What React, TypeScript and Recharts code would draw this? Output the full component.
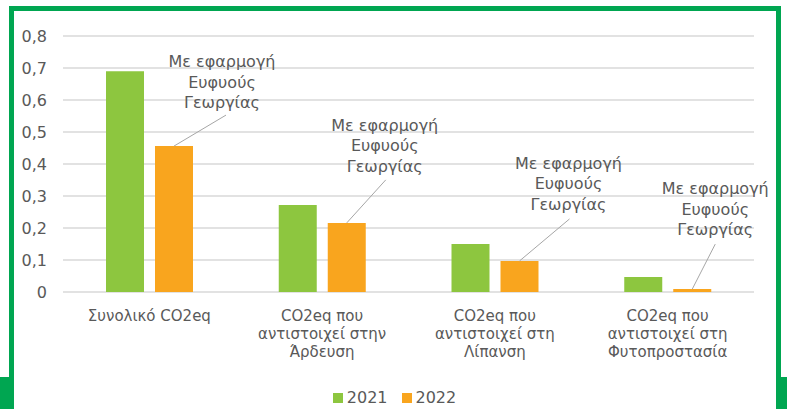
import React from "react";
import {
  BarChart,
  Bar,
  XAxis,
  YAxis,
  CartesianGrid,
  Legend,
  LabelList,
} from "recharts";

const categories = [
  "Συνολικό CO2eq",
  "CO2eq που\nαντιστοιχεί στην\nΆρδευση",
  "CO2eq που\nαντιστοιχεί στη\nΛίπανση",
  "CO2eq που\nαντιστοιχεί στη\nΦυτοπροστασία",
];
const values2021 = [0.69, 0.272, 0.15, 0.047];
const values2022 = [0.456, 0.216, 0.097, 0.009];
const yTicks = [0, 0.1, 0.2, 0.3, 0.4, 0.5, 0.6, 0.7, 0.8];
const calloutText = ["Με εφαρμογή", "Ευφυούς", "Γεωργίας"];

// where each hand-placed callout sits, relative to the top of its orange bar
const calloutShift = [
  { tx: 48, ty: -79, lx: 52, ly: -31 },
  { tx: 38, ty: -92, lx: 39, ly: -43 },
  { tx: 49, ty: -92, lx: 50, ly: -42 },
  { tx: 23, ty: -95, lx: 23, ly: -45 },
];

const data = categories.map((name, i) => ({
  name,
  y2021: values2021[i],
  y2022: values2022[i],
}));

const GREEN = "#8DC63F";
const ORANGE = "#F9A51E";
const FRAME = "#00A651";
const TEXT = "#595959";
const FS = 15;

const fmt = (v: number) => (v === 0 ? "0" : v.toFixed(1).replace(".", ","));

function CategoryTick(props: any) {
  const { x, y, payload } = props;
  const lines = String(payload.value).split("\n");
  return (
    <text x={x} y={y + 21} textAnchor="middle" fill={TEXT} fontSize={FS}>
      {lines.map((l, i) => (
        <tspan key={i} x={x} dy={i === 0 ? 0 : 18}>
          {l}
        </tspan>
      ))}
    </text>
  );
}

function Callout(props: any) {
  const { x, y, width, index } = props;
  const s = calloutShift[index];
  if (!s) return null;
  const cx = Number(x) + Number(width) / 2;
  const top = Number(y);
  return (
    <g>
      <line
        x1={cx}
        y1={top}
        x2={cx + s.lx}
        y2={top + s.ly}
        stroke="#A6A6A6"
        strokeWidth={1}
      />
      <text x={cx + s.tx} y={top + s.ty} textAnchor="middle" fill={TEXT} fontSize={16}>
        {calloutText.map((t, i) => (
          <tspan key={i} x={cx + s.tx} dy={i === 0 ? 0 : 20.5}>
            {t}
          </tspan>
        ))}
      </text>
    </g>
  );
}

function LegendBox() {
  const item = (color: string, label: string) => (
    <span style={{ display: "inline-flex", alignItems: "center", margin: "0 7px" }}>
      <span style={{ width: 10, height: 10, background: color, marginRight: 4 }} />
      <span>{label}</span>
    </span>
  );
  return (
    <div
      style={{
        height: 20,
        lineHeight: "20px",
        display: "flex",
        justifyContent: "center",
        color: TEXT,
        fontSize: 16,
        paddingLeft: 2,
      }}
    >
      {item(GREEN, "2021")}
      {item(ORANGE, "2022")}
    </div>
  );
}

export default function App() {
  const bar = (style: React.CSSProperties) => (
    <div style={{ position: "absolute", background: FRAME, ...style }} />
  );
  return (
    <div
      style={{
        position: "absolute",
        left: 0,
        top: 0,
        width: 787,
        height: 409,
        background: "#fff",
        fontFamily: "'DejaVu Sans', sans-serif",
        overflow: "hidden",
      }}
    >
      {bar({ left: 9, top: 6, width: 772, height: 5 })}
      {bar({ left: 9, top: 6, width: 5, height: 371 })}
      {bar({ left: 776, top: 6, width: 5, height: 371 })}
      {bar({ left: 0, top: 377, width: 14, height: 32 })}
      {bar({ left: 776, top: 377, width: 11, height: 32 })}
      <div style={{ position: "absolute", left: 0, top: 0 }}>
        <BarChart
          width={787}
          height={409}
          data={data}
          margin={{ top: 36, right: 33, bottom: 17, left: 0 }}
          barSize={38}
          barGap={11}
        >
          <CartesianGrid vertical={false} stroke="#D9D9D9" strokeWidth={1.5} />
          <XAxis
            dataKey="name"
            height={80}
            axisLine={false}
            tickLine={false}
            interval={0}
            tick={<CategoryTick />}
          />
          <YAxis
            width={63}
            domain={[0, 0.8]}
            ticks={yTicks}
            tickFormatter={fmt}
            axisLine={false}
            tickLine={false}
            tickMargin={10}
            tick={{ fill: TEXT, fontSize: 16 }}
          />
          <Legend
            verticalAlign="bottom"
            content={<LegendBox />}
            wrapperStyle={{ top: 388, bottom: "auto", left: 0, width: 787 }}
          />
          <Bar dataKey="y2021" name="2021" fill={GREEN} isAnimationActive={false} />
          <Bar dataKey="y2022" name="2022" fill={ORANGE} isAnimationActive={false}>
            <LabelList dataKey="y2022" content={<Callout />} />
          </Bar>
        </BarChart>
      </div>
    </div>
  );
}
